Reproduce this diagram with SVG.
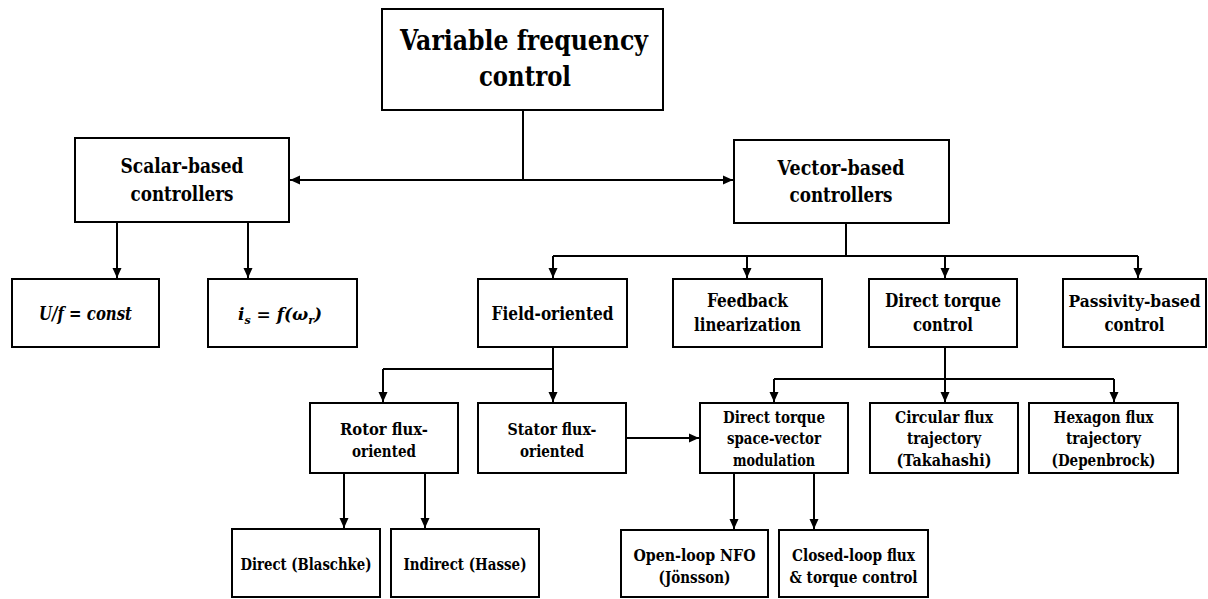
<svg xmlns="http://www.w3.org/2000/svg" width="1208" height="599" viewBox="0 0 1208 599">
<defs>
<marker id="ah" markerUnits="userSpaceOnUse" markerWidth="10" markerHeight="10" refX="10" refY="5" orient="auto">
<path d="M0,0.5 L10,5 L0,9.5 z" fill="#000"/>
</marker>
<marker id="ahs" markerUnits="userSpaceOnUse" markerWidth="10" markerHeight="10" refX="0" refY="5" orient="auto">
<path d="M10,0.5 L0,5 L10,9.5 z" fill="#000"/>
</marker>
<style>
rect{fill:#fff;stroke:#000;stroke-width:2}
text{font-family:'DejaVu Serif',serif;font-weight:bold;text-anchor:middle;fill:#000}
.t30{font-size:27px}
.t21{font-size:20px}
.t20{font-size:18.5px}
.t18{font-size:16.5px}
.it{font-style:italic}
#connectors line{stroke:#000;stroke-width:2;fill:none}
.a{marker-end:url(#ah)}
</style>
</defs>
<rect x="0" y="0" width="1208" height="599" style="fill:#fff;stroke:none"/>
<g id="connectors">
<line x1="523" y1="110" x2="523" y2="180"/>
<line x1="290" y1="180" x2="733" y2="180" style="marker-start:url(#ahs);marker-end:url(#ah)"/>
<line class="a" x1="117" y1="222" x2="117" y2="278"/>
<line class="a" x1="248" y1="222" x2="248" y2="278"/>
<line x1="846" y1="223" x2="846" y2="256"/>
<line x1="553" y1="256" x2="1138" y2="256"/>
<line class="a" x1="553" y1="256" x2="553" y2="278"/>
<line class="a" x1="747" y1="256" x2="747" y2="278"/>
<line class="a" x1="945" y1="256" x2="945" y2="278"/>
<line class="a" x1="1138" y1="256" x2="1138" y2="278"/>
<line class="a" x1="553" y1="347" x2="553" y2="402"/>
<line x1="383" y1="369" x2="553" y2="369"/>
<line class="a" x1="383" y1="369" x2="383" y2="402"/>
<line class="a" x1="626" y1="438" x2="699" y2="438"/>
<line class="a" x1="945" y1="347" x2="945" y2="402"/>
<line x1="774" y1="379" x2="1114" y2="379"/>
<line class="a" x1="774" y1="379" x2="774" y2="402"/>
<line class="a" x1="1114" y1="379" x2="1114" y2="402"/>
<line class="a" x1="344" y1="473" x2="344" y2="528"/>
<line class="a" x1="425" y1="473" x2="425" y2="528"/>
<line class="a" x1="734" y1="473" x2="734" y2="529"/>
<line class="a" x1="814" y1="473" x2="814" y2="529"/>
</g>
<g id="variable-frequency-control">
<rect x="382" y="9" width="281" height="101"/>
<text class="t30" x="524" y="50" textLength="248" lengthAdjust="spacingAndGlyphs">Variable frequency</text>
<text class="t30" x="525" y="86" textLength="92" lengthAdjust="spacingAndGlyphs">control</text>
</g>
<g id="scalar-based">
<rect x="75" y="138" width="214" height="84"/>
<text class="t21" x="182" y="173" textLength="123" lengthAdjust="spacingAndGlyphs">Scalar-based</text>
<text class="t21" x="182" y="201" textLength="103" lengthAdjust="spacingAndGlyphs">controllers</text>
</g>
<g id="vector-based">
<rect x="734" y="140" width="215" height="83"/>
<text class="t21" x="841" y="175" textLength="127" lengthAdjust="spacingAndGlyphs">Vector-based</text>
<text class="t21" x="841" y="202" textLength="103" lengthAdjust="spacingAndGlyphs">controllers</text>
</g>
<g id="uf-const">
<rect x="12" y="279" width="147" height="68"/>
<text class="t20 it" x="85.5" y="320" textLength="93" lengthAdjust="spacingAndGlyphs">U/f = const</text>
</g>
<g id="is-f-wr">
<rect x="208" y="279" width="149" height="68"/>
<text class="it" x="280" y="320" style="font-size:17px">i<tspan style="font-size:11px" dy="4">s</tspan><tspan dy="-4"> = f(ω</tspan><tspan style="font-size:11px" dy="4">r</tspan><tspan dy="-4">)</tspan></text>
</g>
<g id="field-oriented">
<rect x="478" y="279" width="149" height="68"/>
<text class="t20" x="552.5" y="320" textLength="122" lengthAdjust="spacingAndGlyphs">Field-oriented</text>
</g>
<g id="feedback-linearization">
<rect x="673" y="279" width="149" height="68"/>
<text class="t20" x="747.5" y="307" textLength="81" lengthAdjust="spacingAndGlyphs">Feedback</text>
<text class="t20" x="747.5" y="331" textLength="107" lengthAdjust="spacingAndGlyphs">linearization</text>
</g>
<g id="direct-torque-control">
<rect x="869" y="279" width="148" height="68"/>
<text class="t20" x="943" y="307" textLength="116" lengthAdjust="spacingAndGlyphs">Direct torque</text>
<text class="t20" x="943" y="331" textLength="60" lengthAdjust="spacingAndGlyphs">control</text>
</g>
<g id="passivity-based">
<rect x="1063" y="279" width="143" height="68"/>
<text class="t20" x="1134.5" y="307" textLength="132" lengthAdjust="spacingAndGlyphs" style="font-size:16.5px">Passivity-based</text>
<text class="t20" x="1134.5" y="331" textLength="60" lengthAdjust="spacingAndGlyphs">control</text>
</g>
<g id="rotor-flux">
<rect x="310" y="403" width="148" height="70"/>
<text class="t18" x="384" y="435" textLength="88" lengthAdjust="spacingAndGlyphs">Rotor flux-</text>
<text class="t18" x="384" y="457" textLength="64" lengthAdjust="spacingAndGlyphs">oriented</text>
</g>
<g id="stator-flux">
<rect x="478" y="403" width="148" height="70"/>
<text class="t18" x="552" y="435" textLength="89" lengthAdjust="spacingAndGlyphs">Stator flux-</text>
<text class="t18" x="552" y="457" textLength="64" lengthAdjust="spacingAndGlyphs">oriented</text>
</g>
<g id="dt-svm">
<rect x="700" y="403" width="148" height="70"/>
<text class="t18" x="774" y="423" textLength="102" lengthAdjust="spacingAndGlyphs">Direct torque</text>
<text class="t18" x="774" y="444" textLength="94" lengthAdjust="spacingAndGlyphs">space-vector</text>
<text class="t18" x="774" y="466" textLength="82" lengthAdjust="spacingAndGlyphs">modulation</text>
</g>
<g id="circular-flux">
<rect x="870" y="403" width="148" height="70"/>
<text class="t18" x="944" y="423" textLength="98" lengthAdjust="spacingAndGlyphs">Circular flux</text>
<text class="t18" x="944" y="444" textLength="74" lengthAdjust="spacingAndGlyphs">trajectory</text>
<text class="t18" x="944" y="466" textLength="95" lengthAdjust="spacingAndGlyphs">(Takahashi)</text>
</g>
<g id="hexagon-flux">
<rect x="1029" y="403" width="149" height="70"/>
<text class="t18" x="1103.5" y="423" textLength="100" lengthAdjust="spacingAndGlyphs">Hexagon flux</text>
<text class="t18" x="1103.5" y="444" textLength="75" lengthAdjust="spacingAndGlyphs">trajectory</text>
<text class="t18" x="1103.5" y="466" textLength="104" lengthAdjust="spacingAndGlyphs">(Depenbrock)</text>
</g>
<g id="direct-blaschke">
<rect x="232" y="529" width="148" height="68"/>
<text class="t18" x="306" y="570" textLength="131" lengthAdjust="spacingAndGlyphs">Direct (Blaschke)</text>
</g>
<g id="indirect-hasse">
<rect x="391" y="529" width="148" height="68"/>
<text class="t18" x="465" y="570" textLength="123" lengthAdjust="spacingAndGlyphs">Indirect (Hasse)</text>
</g>
<g id="open-loop-nfo">
<rect x="621" y="530" width="147" height="67"/>
<text class="t18" x="694.5" y="561" textLength="122" lengthAdjust="spacingAndGlyphs">Open-loop NFO</text>
<text class="t18" x="694.5" y="583" textLength="72" lengthAdjust="spacingAndGlyphs">(Jönsson)</text>
</g>
<g id="closed-loop">
<rect x="779" y="530" width="149" height="67"/>
<text class="t18" x="853.5" y="561" textLength="123" lengthAdjust="spacingAndGlyphs">Closed-loop flux</text>
<text class="t18" x="853.5" y="583" textLength="128" lengthAdjust="spacingAndGlyphs">&amp; torque control</text>
</g>
</svg>
